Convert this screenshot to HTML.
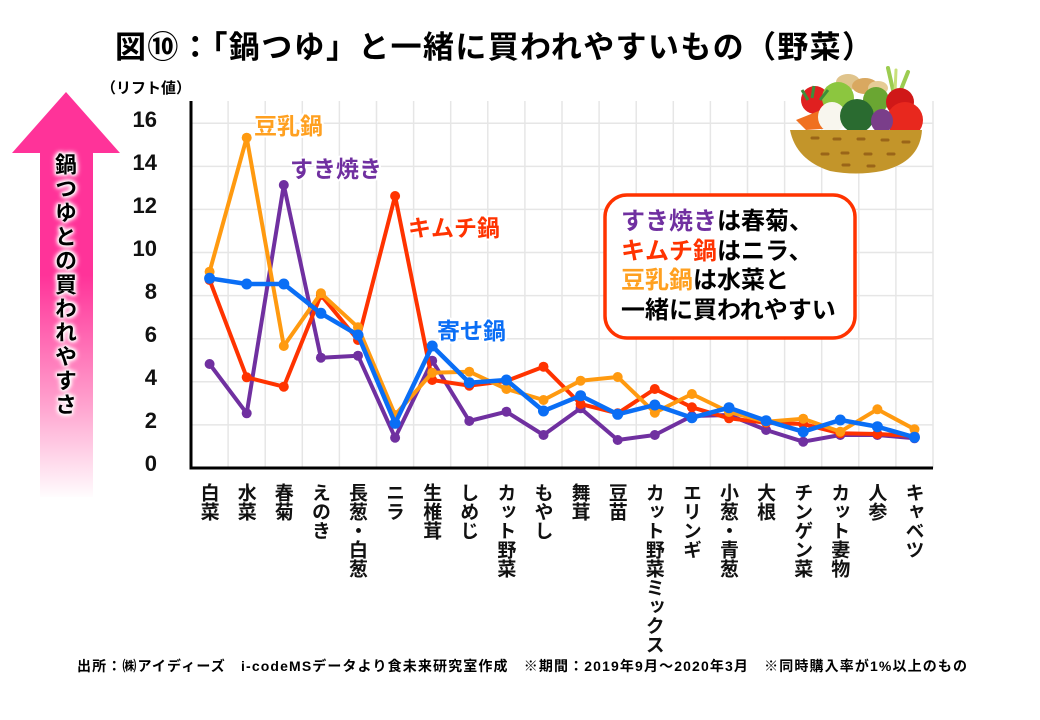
<!DOCTYPE html>
<html lang="ja">
<head>
<meta charset="utf-8">
<style>
  html,body{margin:0;padding:0;background:#fff;}
  body{width:1040px;height:720px;position:relative;overflow:hidden;
       font-family:"Liberation Sans","Noto Sans CJK JP",sans-serif;}
  svg{position:absolute;left:0;top:0;}
  .xl{position:absolute;top:483px;width:20px;writing-mode:vertical-rl;text-orientation:upright;
      font-family:"Noto Sans CJK JP","Liberation Sans",sans-serif;font-weight:bold;font-size:19px;
      line-height:20px;color:#111;white-space:nowrap;}
  .arrowtxt{position:absolute;left:54px;top:153px;width:24px;writing-mode:vertical-rl;text-orientation:upright;
      font-family:"Noto Sans CJK JP","Liberation Sans",sans-serif;font-weight:bold;font-size:22px;
      line-height:24px;letter-spacing:2px;color:#000;white-space:nowrap;
      text-shadow:0 0 2px #fff,0 0 3px #fff,0 0 4px #fff,0 0 5px #fff,0 0 6px #fff,0 0 7px #fff;}
</style>
</head>
<body>
<svg width="1040" height="720" viewBox="0 0 1040 720" xmlns="http://www.w3.org/2000/svg">
  <defs>
    <linearGradient id="pk" gradientUnits="userSpaceOnUse" x1="0" y1="92" x2="0" y2="500">
      <stop offset="0" stop-color="#ff3399"/>
      <stop offset="0.45" stop-color="#ff3399"/>
      <stop offset="0.75" stop-color="#ff9ccb"/>
      <stop offset="1" stop-color="#ffffff"/>
    </linearGradient>
    <marker id="mP" markerUnits="userSpaceOnUse" markerWidth="12" markerHeight="12" refX="6" refY="6"><circle cx="6" cy="6" r="5" fill="#7030a0"/></marker>
    <marker id="mR" markerUnits="userSpaceOnUse" markerWidth="12" markerHeight="12" refX="6" refY="6"><circle cx="6" cy="6" r="5" fill="#ff3300"/></marker>
    <marker id="mO" markerUnits="userSpaceOnUse" markerWidth="12" markerHeight="12" refX="6" refY="6"><circle cx="6" cy="6" r="5" fill="#ff9a10"/></marker>
    <marker id="mB" markerUnits="userSpaceOnUse" markerWidth="12" markerHeight="12" refX="6" refY="6"><circle cx="6" cy="6" r="5.5" fill="#0a6ef5"/></marker>
  </defs>

  <!-- Title -->
  <text x="115" y="58" font-family="'Liberation Sans','Noto Sans CJK JP',sans-serif" font-weight="bold" font-size="31" fill="#000" textLength="758" lengthAdjust="spacing">図⑩：「鍋つゆ」と一緒に買われやすいもの（野菜）</text>

  <!-- Arrow -->
  <path d="M66,92 L120,153 L93,153 L93,497 L40,497 L40,153 L12,153 Z" fill="url(#pk)"/>

  <!-- unit label -->
  <text x="101" y="93" font-family="'Liberation Sans','Noto Sans CJK JP',sans-serif" font-weight="bold" font-size="15" fill="#000">（リフト値）</text>

  <!-- Grid -->
  <g stroke="#e6e6e6" stroke-width="1.5">
    <line x1="228.1" y1="101" x2="228.1" y2="468"/>
    <line x1="265.2" y1="101" x2="265.2" y2="468"/>
    <line x1="302.3" y1="101" x2="302.3" y2="468"/>
    <line x1="339.4" y1="101" x2="339.4" y2="468"/>
    <line x1="376.5" y1="101" x2="376.5" y2="468"/>
    <line x1="413.6" y1="101" x2="413.6" y2="468"/>
    <line x1="450.7" y1="101" x2="450.7" y2="468"/>
    <line x1="487.8" y1="101" x2="487.8" y2="468"/>
    <line x1="524.9" y1="101" x2="524.9" y2="468"/>
    <line x1="562" y1="101" x2="562" y2="468"/>
    <line x1="599.1" y1="101" x2="599.1" y2="468"/>
    <line x1="636.2" y1="101" x2="636.2" y2="468"/>
    <line x1="673.3" y1="101" x2="673.3" y2="468"/>
    <line x1="710.4" y1="101" x2="710.4" y2="468"/>
    <line x1="747.5" y1="101" x2="747.5" y2="468"/>
    <line x1="784.6" y1="101" x2="784.6" y2="468"/>
    <line x1="821.7" y1="101" x2="821.7" y2="468"/>
    <line x1="858.8" y1="101" x2="858.8" y2="468"/>
    <line x1="895.9" y1="101" x2="895.9" y2="468"/>
    <line x1="933" y1="101" x2="933" y2="468"/>
    <line x1="191" y1="123.2" x2="933" y2="123.2"/>
    <line x1="191" y1="166.4" x2="933" y2="166.4"/>
    <line x1="191" y1="209.4" x2="933" y2="209.4"/>
    <line x1="191" y1="252.5" x2="933" y2="252.5"/>
    <line x1="191" y1="295.6" x2="933" y2="295.6"/>
    <line x1="191" y1="338.7" x2="933" y2="338.7"/>
    <line x1="191" y1="381.8" x2="933" y2="381.8"/>
    <line x1="191" y1="424.9" x2="933" y2="424.9"/>
  </g>

  <!-- Y tick labels -->
  <g font-family="'Liberation Sans',sans-serif" font-weight="bold" font-size="22" fill="#111" text-anchor="end">
    <text x="157" y="127">16</text>
    <text x="157" y="170">14</text>
    <text x="157" y="213">12</text>
    <text x="157" y="256">10</text>
    <text x="157" y="299">8</text>
    <text x="157" y="342">6</text>
    <text x="157" y="385">4</text>
    <text x="157" y="428">2</text>
    <text x="157" y="471">0</text>
  </g>

  <!-- Basket illustration -->
  <g>
    <line x1="893" y1="90" x2="888" y2="68" stroke="#9ccc50" stroke-width="4" stroke-linecap="round"/>
    <line x1="900" y1="92" x2="908" y2="72" stroke="#9ccc50" stroke-width="4" stroke-linecap="round"/>
    <line x1="895" y1="92" x2="896" y2="70" stroke="#c8e07a" stroke-width="3" stroke-linecap="round"/>
    <ellipse cx="848" cy="82" rx="12" ry="8" fill="#e0c48c"/>
    <ellipse cx="865" cy="86" rx="13" ry="8" fill="#d9a860"/>
    <ellipse cx="878" cy="88" rx="10" ry="7" fill="#e6cc96"/>
    <circle cx="815" cy="100" r="14" fill="#e02020"/>
    <circle cx="838" cy="98" r="16" fill="#8cc63f"/>
    <circle cx="876" cy="100" r="13" fill="#6aa632"/>
    <circle cx="900" cy="102" r="14" fill="#d01818"/>
    <circle cx="905" cy="120" r="18" fill="#e8281e"/>
    <path d="M796,120 L826,108 L836,128 L806,130 Z" fill="#f07020"/>
    <ellipse cx="832" cy="117" rx="14" ry="15" fill="#f8f6ee"/>
    <circle cx="857" cy="116" r="17" fill="#2a6b30"/>
    <ellipse cx="882" cy="121" rx="11" ry="12" fill="#7a3e8a"/>
    <path d="M808,100 l-6,-10 M812,98 l2,-12 M820,100 l8,-10" stroke="#3e8e3a" stroke-width="3"/>
    <path d="M790,130 L922,130 Q920,162 882,171 Q856,176 830,171 Q796,160 790,130 Z" fill="#c3952a"/>
    <g stroke="#9a6518" stroke-width="3" stroke-linecap="round">
      <line x1="812" y1="138" x2="818" y2="138"/><line x1="834" y1="139" x2="840" y2="139"/>
      <line x1="858" y1="139" x2="864" y2="139"/><line x1="882" y1="140" x2="888" y2="140"/>
      <line x1="903" y1="142" x2="909" y2="142"/>
      <line x1="822" y1="154" x2="828" y2="154"/><line x1="842" y1="153" x2="848" y2="153"/>
      <line x1="865" y1="154" x2="871" y2="154"/><line x1="888" y1="154" x2="894" y2="154"/>
      <line x1="843" y1="165" x2="849" y2="165"/><line x1="868" y1="166" x2="874" y2="166"/>
    </g>
  </g>

  <!-- Axes -->
  <line x1="191" y1="101" x2="191" y2="469.5" stroke="#000" stroke-width="3"/>
  <line x1="189.5" y1="468" x2="933" y2="468" stroke="#000" stroke-width="3"/>

  <!-- Series -->
  <g fill="none" stroke-linejoin="round" stroke-width="4">
    <polyline stroke="#7030a0" marker-start="url(#mP)" marker-mid="url(#mP)" marker-end="url(#mP)"
      points="209.6,364 246.7,413.3 283.8,185 320.9,357.7 358,355.7 395.1,437.7 432.2,360.7 469.3,421 506.4,411.7 543.5,435 580.6,408.3 617.7,440 654.8,435 691.9,416 729,415 766.1,430 803.2,441.7 840.3,435 877.4,435 914.5,438.3"/>
    <polyline stroke="#ff3300" marker-start="url(#mR)" marker-mid="url(#mR)" marker-end="url(#mR)"
      points="209.6,280 246.7,377.3 283.8,386.7 320.9,295 358,340 395.1,196 432.2,380 469.3,385.7 506.4,381 543.5,366.7 580.6,404 617.7,413.3 654.8,389 691.9,407.3 729,418.3 766.1,422.7 803.2,424 840.3,433.3 877.4,434 914.5,436"/>
    <polyline stroke="#ff9a10" marker-start="url(#mO)" marker-mid="url(#mO)" marker-end="url(#mO)"
      points="209.6,271.7 246.7,137.7 283.8,346 320.9,293.3 358,327.3 395.1,415 432.2,372.7 469.3,371.7 506.4,389 543.5,400 580.6,380.7 617.7,377 654.8,412.7 691.9,394 729,412 766.1,421.7 803.2,418.7 840.3,431.7 877.4,409.3 914.5,429.3"/>
    <polyline stroke="#0a6ef5" stroke-width="4.5" marker-start="url(#mB)" marker-mid="url(#mB)" marker-end="url(#mB)"
      points="209.6,278.3 246.7,284 283.8,284 320.9,313.3 358,335 395.1,423.3 432.2,346 469.3,382.7 506.4,380 543.5,411 580.6,395.7 617.7,414.3 654.8,405 691.9,417.7 729,407.7 766.1,420.7 803.2,431.7 840.3,420 877.4,426.7 914.5,437.3"/>
  </g>

  <!-- Series labels -->
  <g font-family="'Liberation Sans','Noto Sans CJK JP',sans-serif" font-weight="bold" font-size="23" stroke="#fff" stroke-width="4" paint-order="stroke" stroke-linejoin="round">
    <text x="254" y="134" fill="#ffa020">豆乳鍋</text>
    <text x="290" y="177" fill="#7030a0">すき焼き</text>
    <text x="408" y="236" fill="#ff3300">キムチ鍋</text>
    <text x="437" y="339" fill="#0a6ef5">寄せ鍋</text>
  </g>

  <!-- Annotation box -->
  <rect x="605" y="195" width="250" height="143" rx="22" ry="22" fill="#fff" stroke="#ff3300" stroke-width="3.5"/>
  <g font-family="'Liberation Sans','Noto Sans CJK JP',sans-serif" font-weight="bold" font-size="24" fill="#000">
    <text x="621" y="229"><tspan fill="#7030a0">すき焼き</tspan>は春菊、</text>
    <text x="621" y="259"><tspan fill="#ff3300">キムチ鍋</tspan>はニラ、</text>
    <text x="621" y="288"><tspan fill="#ffa020">豆乳鍋</tspan>は水菜と</text>
    <text x="621" y="318">一緒に買われやすい</text>
  </g>

  <!-- Footer -->
  <text x="77" y="671" font-family="'Liberation Sans','Noto Sans CJK JP',sans-serif" font-weight="bold" font-size="14" fill="#000" textLength="890" lengthAdjust="spacing">出所：㈱アイディーズ　i-codeMSデータより食未来研究室作成　※期間：2019年9月～2020年3月　※同時購入率が1%以上のもの</text>
</svg>

<div class="arrowtxt">鍋つゆとの買われやすさ</div>

<div class="xl" style="left:199.6px">白菜</div>
<div class="xl" style="left:236.7px">水菜</div>
<div class="xl" style="left:273.8px">春菊</div>
<div class="xl" style="left:310.9px">えのき</div>
<div class="xl" style="left:348px">長葱・白葱</div>
<div class="xl" style="left:385.1px">ニラ</div>
<div class="xl" style="left:422.2px">生椎茸</div>
<div class="xl" style="left:459.3px">しめじ</div>
<div class="xl" style="left:496.4px">カット野菜</div>
<div class="xl" style="left:533.5px">もやし</div>
<div class="xl" style="left:570.6px">舞茸</div>
<div class="xl" style="left:607.7px">豆苗</div>
<div class="xl" style="left:644.8px">カット野菜ミックス</div>
<div class="xl" style="left:681.9px">エリンギ</div>
<div class="xl" style="left:719px">小葱・青葱</div>
<div class="xl" style="left:756.1px">大根</div>
<div class="xl" style="left:793.2px">チンゲン菜</div>
<div class="xl" style="left:830.3px">カット妻物</div>
<div class="xl" style="left:867.4px">人参</div>
<div class="xl" style="left:904.5px">キャベツ</div>
</body>
</html>
